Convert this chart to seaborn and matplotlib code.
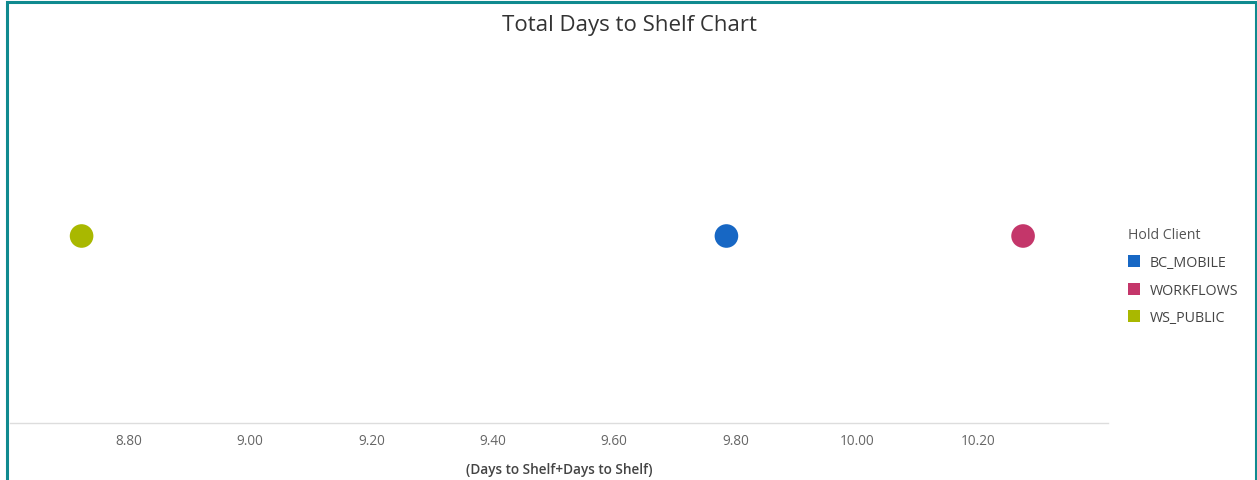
import matplotlib
matplotlib.use("Agg")
import matplotlib.pyplot as plt
from matplotlib.lines import Line2D
from matplotlib.patches import Rectangle
import seaborn as sns
import pandas as pd

clients = ["BC_MOBILE", "WORKFLOWS", "WS_PUBLIC"]
days_to_shelf = [9.785, 10.274, 8.722]
client_colors = ["#1767c4", "#c4366a", "#a9b800"]
tick_values = [8.80, 9.00, 9.20, 9.40, 9.60, 9.80, 10.00, 10.20]
tick_labels = ["8.80", "9.00", "9.20", "9.40", "9.60", "9.80", "10.00", "10.20"]

sns.set_theme(style="white")
plt.rcParams["font.family"] = ["Open Sans", "DejaVu Sans"]

df = pd.DataFrame({"Hold Client": clients, "Days": days_to_shelf})
palette = dict(zip(clients, client_colors))

W, H = 1257, 481
fig = plt.figure(figsize=(W / 100, H / 100), dpi=100)
ax = fig.add_axes([10 / W, 57 / H, 1098 / W, 374 / H])

sns.stripplot(data=df, x="Days", hue="Hold Client", palette=palette,
              jitter=False, size=17, linewidth=0, legend=False, ax=ax)

ax.set_xlim(8.604, 10.414)
ax.set_ylim(-1, 1)
ax.set_xticks(tick_values)
ax.set_xticklabels(tick_labels)
ax.tick_params(axis="x", length=0, pad=7, labelsize=9.8, labelcolor="#666666")
ax.set_yticks([])
ax.set_ylabel("")
ax.set_xlabel("(Days to Shelf+Days to Shelf)", fontsize=9.8, fontweight="semibold",
              color="#444444", labelpad=10)
for side in ["top", "right", "left"]:
    ax.spines[side].set_visible(False)
ax.spines["bottom"].set_color("#dddddd")
ax.spines["bottom"].set_linewidth(1)

fig.text(630 / W, 1 - 26 / H, "Total Days to Shelf Chart", ha="center",
         va="center", fontsize=16, color="#333333")

handles = [Line2D([0], [0], marker="s", linestyle="none", markersize=8,
                  markerfacecolor=c, markeredgewidth=0) for c in client_colors]
leg = fig.legend(handles, clients, title="Hold Client", loc="upper left",
                 bbox_to_anchor=(1117 / W, 1 - 217 / H), frameon=False,
                 fontsize=10.3, title_fontsize=10.2, labelspacing=0.88,
                 handlelength=0.75, handletextpad=0.72, borderpad=0.3)
leg._legend_box.align = "left"
for t in leg.get_texts():
    t.set_color("#444444")
leg.get_title().set_color("#555555")

# teal frame around the card
fig.patches.append(Rectangle((7 / W, -0.1), (W - 8.5) / W, 1.1 - 3 / H,
                             transform=fig.transFigure, fill=False,
                             edgecolor="#0f8a8f", linewidth=2.2))

fig.savefig("out.png", dpi=100, facecolor="white")
